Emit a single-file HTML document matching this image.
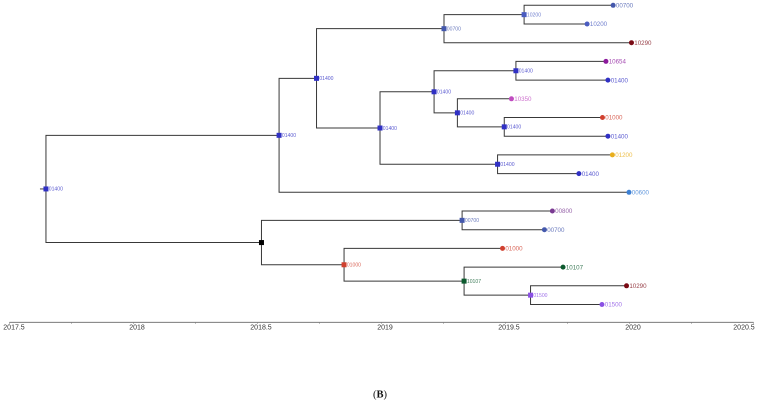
<!DOCTYPE html>
<html lang="en">
<head>
<meta charset="utf-8">
<title>Time-scaled phylogenetic tree (B)</title>
<style>
  html, body { margin: 0; padding: 0; background: #fff; }
  body { width: 759px; height: 403px; overflow: hidden; }
  svg { display: block; }
  text { font-family: "Liberation Sans", Arial, sans-serif; }
</style>
</head>
<body>
<svg id="chart" xmlns="http://www.w3.org/2000/svg" width="759" height="403" viewBox="0 0 759 403">
  <g id="branches"></g>
  <g id="nodes"></g>
  <g id="axis"></g>
  <text x="380" y="397.5" text-anchor="middle" font-size="10.5" fill="#111" style="font-family:'Liberation Serif',serif">(<tspan font-weight="bold">B</tspan>)</text>
</svg>
<script>
// Tree nodes in display order (top to bottom, depth first)
const nodeParents = [-1, 0, 1, 2, 3, 4, 4, 3, 2, 8, 9, 10, 10, 9, 13, 13, 15, 15, 8, 18, 18, 1, 0, 22, 23, 23, 22, 26, 26, 28, 28, 30, 30];
const nodeYears = [2017.647, 2018.587, 2018.738, 2019.252, 2019.575, 2019.934, 2019.829, 2020.008, 2018.994, 2019.212, 2019.542, 2019.905, 2019.913, 2019.306, 2019.524, 2019.495, 2019.891, 2019.913, 2019.468, 2019.931, 2019.796, 2019.998, 2018.516, 2019.325, 2019.689, 2019.657, 2018.849, 2019.488, 2019.333, 2019.732, 2019.601, 2019.988, 2019.889];
const nodeClades = ["01400", "01400", "01400", "00700", "10200", "00700", "10200", "10290", "01400", "01400", "01400", "10654", "01400", "01400", "10350", "01400", "01000", "01400", "01400", "01200", "01400", "00600", "", "00700", "00800", "00700", "01000", "01000", "10107", "10107", "01500", "10290", "01500"];
const cladeColors = {
  "01400": "#3030c4", "00700": "#4458ac", "10200": "#4a5cc0", "10290": "#7a0a14",
  "10654": "#8c1a9c", "10350": "#c04cc0", "01000": "#d0402f", "01200": "#e8ae1c",
  "00600": "#3c80d4", "00800": "#7a3a92", "10107": "#0c5a2e", "01500": "#8a50e4", "": "#000000"
};
const axisMajorTicks = [2017.5, 2018, 2018.5, 2019, 2019.5, 2020, 2020.5];
const axisMinorTicks = [2017.75, 2018.25, 2018.75, 2019.25, 2019.75, 2020.25];
const axisTickLabels = ["2017.5", "2018", "2018.5", "2019", "2019.5", "2020", "2020.5"];

const NS = "http://www.w3.org/2000/svg";
const xScale = year => 9.5 + (year - 2017.5) * 248;
const yScale = row => 5.3 + row * 18.7;

function make(tag, attrs, parent) {
  const el = document.createElementNS(NS, tag);
  for (const k in attrs) el.setAttribute(k, attrs[k]);
  parent.appendChild(el);
  return el;
}

const children = nodeParents.map(() => []);
nodeParents.forEach((p, i) => { if (p >= 0) children[p].push(i); });

const rows = [];
let nextLeaf = 0;
function assignRow(i) {
  if (!children[i].length) { rows[i] = nextLeaf++; return; }
  children[i].forEach(assignRow);
  const c = children[i];
  rows[i] = (rows[c[0]] + rows[c[c.length - 1]]) / 2;
}
assignRow(0);

const branches = document.getElementById("branches");
const nodesG = document.getElementById("nodes");
const axisG = document.getElementById("axis");
const LINE = "#383838";

const rootStub = make("line", { x1: xScale(nodeYears[0]) - 6, x2: xScale(nodeYears[0]), y1: yScale(rows[0]), y2: yScale(rows[0]), stroke: "#555", "stroke-width": 1.1 }, branches);



nodeParents.forEach((p, i) => {
  if (p < 0) return;
  const path = make("path", {
    d: "M" + xScale(nodeYears[p]) + " " + yScale(rows[p]) + "V" + yScale(rows[i]) + "H" + xScale(nodeYears[i]),
    fill: "none", stroke: LINE, "stroke-width": 1
  }, branches);
  
  
});

nodeParents.forEach((p, i) => {
  const x = xScale(nodeYears[i]), y = yScale(rows[i]);
  const color = cladeColors[nodeClades[i]];
  const isTip = !children[i].length;
  let mark;
  if (isTip) {
    mark = make("circle", { cx: x, cy: y, r: 2.5, fill: color }, nodesG);
    
  } else {
    mark = make("rect", { x: x - 2.5, y: y - 2.5, width: 5, height: 5, fill: color }, nodesG);
    
  }
  
  if (nodeClades[i]) {
    const label = make("text", {
      x: x + 2.8, y: y + (isTip ? 2.2 : 1.8),
      "font-size": isTip ? 6.2 : 5.1,
      fill: color, "fill-opacity": 0.8
    }, nodesG);
    label.textContent = nodeClades[i];
    
    
  }
});

const axisLine = make("line", { x1: xScale(2017.5), x2: xScale(2020.5), y1: 322.3, y2: 322.3, stroke: "#666", "stroke-width": 0.9 }, axisG);



axisMajorTicks.concat(axisMinorTicks).forEach(t => {
  const tick = make("line", { x1: xScale(t), x2: xScale(t), y1: 322.3, y2: 323.8, stroke: "#888", "stroke-width": 0.7 }, axisG);
  
  
});

axisMajorTicks.forEach((t, i) => {
  const lx = Math.min(744, Math.max(14, xScale(t) + 3.5));
  const label = make("text", { x: lx, y: 329.6, "text-anchor": "middle", "font-size": 7, fill: "#333" }, axisG);
  label.textContent = axisTickLabels[i];
  
  
});
</script>
</body>
</html>
